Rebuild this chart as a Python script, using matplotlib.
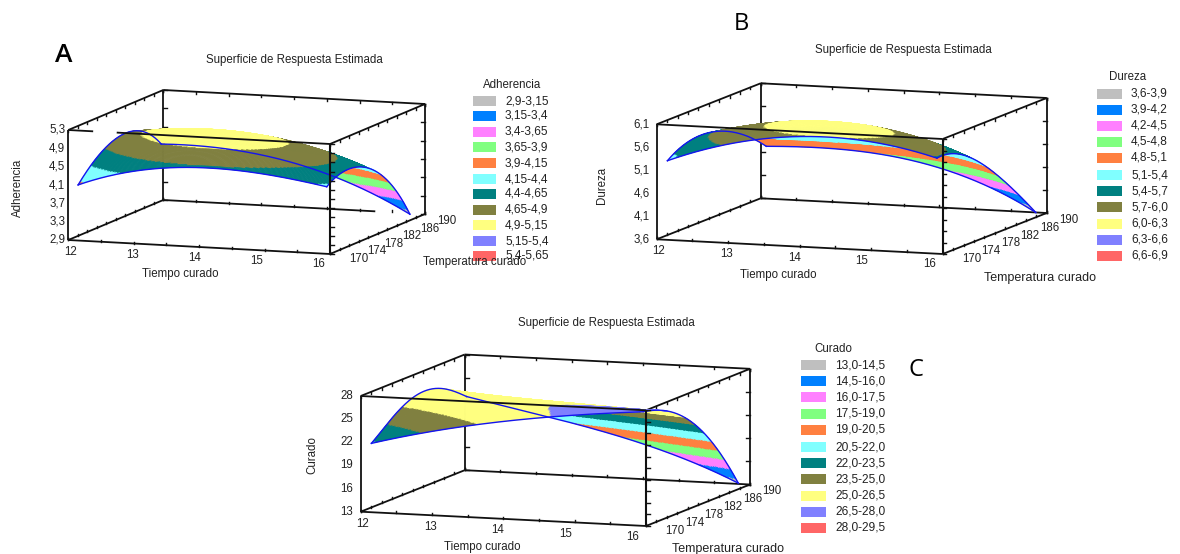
import numpy as np
import matplotlib
matplotlib.use("Agg")
import matplotlib.pyplot as plt
from matplotlib.collections import PolyCollection
from matplotlib.patches import Rectangle

plt.rcParams['font.family'] = ['Liberation Sans', 'DejaVu Sans']

BAND_COLORS = ['#BFBFBF', '#0080FF', '#FF80FF', '#80FF80', '#FF8040', '#80FFFF',
               '#008080', '#808040', '#FFFF80', '#8080FF', '#FF6666']

X_TICKS = [12, 13, 14, 15, 16]
Y_TICKS = [170, 174, 178, 182, 186, 190]

A_Z_TICKS = [2.9, 3.3, 3.7, 4.1, 4.5, 4.9, 5.3]
A_Z_LABELS = ['2,9', '3,3', '3,7', '4,1', '4,5', '4,9', '5,3']
A_BANDS = [2.9, 3.15, 3.4, 3.65, 3.9, 4.15, 4.4, 4.65, 4.9, 5.15, 5.4, 5.65]
A_LEGEND = ['2,9-3,15', '3,15-3,4', '3,4-3,65', '3,65-3,9', '3,9-4,15', '4,15-4,4',
            '4,4-4,65', '4,65-4,9', '4,9-5,15', '5,15-5,4', '5,4-5,65']
A_SURF_X = [12.15, 13.1, 14.05, 15.0, 15.95]
A_SURF_Y = [170, 173.5, 177, 180.5, 184, 187.5]
A_SURF_Z = [[4.11, 4.50, 4.75, 4.80, 4.66, 4.24],
            [4.52, 4.84, 5.00, 4.95, 4.69, 4.22],
            [4.61, 4.96, 5.06, 4.94, 4.58, 4.02],
            [4.58, 4.80, 4.84, 4.68, 4.28, 3.63],
            [4.36, 4.54, 4.50, 4.23, 3.75, 3.00]]

B_Z_TICKS = [3.6, 4.1, 4.6, 5.1, 5.6, 6.1]
B_Z_LABELS = ['3,6', '4,1', '4,6', '5,1', '5,6', '6,1']
B_BANDS = [3.6, 3.9, 4.2, 4.5, 4.8, 5.1, 5.4, 5.7, 6.0, 6.3, 6.6, 6.9]
B_LEGEND = ['3,6-3,9', '3,9-4,2', '4,2-4,5', '4,5-4,8', '4,8-5,1', '5,1-5,4',
            '5,4-5,7', '5,7-6,0', '6,0-6,3', '6,3-6,6', '6,6-6,9']
B_SURF_X = [12.15, 13.09, 14.03, 14.98, 15.92]
B_SURF_Y = [170, 173.8, 177.6, 181.4, 185.2, 189]
B_SURF_Z = [[5.32, 5.56, 5.58, 5.46, 5.18, 4.78],
            [5.78, 5.93, 5.87, 5.60, 5.22, 4.84],
            [6.00, 6.17, 5.98, 5.62, 5.15, 4.64],
            [5.96, 5.98, 5.75, 5.35, 4.87, 4.35],
            [5.68, 5.60, 5.31, 4.80, 4.27, 3.64]]

C_Z_TICKS = [13, 16, 19, 22, 25, 28]
C_Z_LABELS = ['13', '16', '19', '22', '25', '28']
C_BANDS = [13, 14.5, 16, 17.5, 19, 20.5, 22, 23.5, 25, 26.5, 28, 29.5]
C_LEGEND = ['13,0-14,5', '14,5-16,0', '16,0-17,5', '17,5-19,0', '19,0-20,5', '20,5-22,0',
            '22,0-23,5', '23,5-25,0', '25,0-26,5', '26,5-28,0', '28,0-29,5']
C_SURF_X = [12.15, 13.1, 14.05, 15.0, 15.96]
C_SURF_Y = [170, 173.66, 177.32, 180.98, 184.64, 188.3]
C_SURF_Z = [[21.93, 23.97, 25.58, 25.90, 25.00, 23.07],
            [24.09, 25.34, 26.09, 25.54, 23.99, 21.34],
            [25.70, 26.30, 26.30, 25.00, 22.80, 19.42],
            [26.92, 26.75, 26.07, 24.10, 21.12, 17.05],
            [27.80, 26.95, 25.41, 22.48, 18.69, 13.60]]


def smooth_surface(sx, sy, sz, nx=170, ny=130):
    """Render the table as a smooth response surface (polynomial least squares)."""
    sx, sy, sz = map(np.asarray, (sx, sy, sz))
    cx = (sx - 14) / 2
    cy = (sy - 180) / 10
    gx, gy = np.meshgrid(cx, cy, indexing='ij')
    pw = [(i, j) for i in range(4) for j in range(5)]
    A = np.column_stack([gx.ravel()**i * gy.ravel()**j for i, j in pw])
    coef, *_ = np.linalg.lstsq(A, sz.ravel(), rcond=None)
    fx = np.linspace(sx[0], sx[-1], nx)
    fy = np.linspace(sy[0], sy[-1], ny)
    mx, my = np.meshgrid(fx, fy, indexing='ij')
    ux, uy = (mx - 14) / 2, (my - 180) / 10
    mz = sum(c * ux**i * uy**j for c, (i, j) in zip(coef, pw))
    return mx, my, mz


def draw_panel(ax, p):
    o, vx, vy, hgt = p['origin'], p['vx'], p['vy'], p['height']
    zt = p['zticks']
    z0, z1 = zt[0], zt[-1]

    def proj(x, y, z):
        tx = (np.asarray(x, float) - 12) / 4
        ty = (np.asarray(y, float) - 170) / 20
        tz = (np.asarray(z, float) - z0) / (z1 - z0)
        return o[0] + tx * vx[0] + ty * vy[0], o[1] + tx * vx[1] + ty * vy[1] - tz * hgt

    def seg(a, b, zorder=2, lw=1.3):
        xa, ya = proj(*a)
        xb, yb = proj(*b)
        ax.plot([xa, xb], [ya, yb], color='#111111', lw=lw, zorder=zorder, solid_capstyle='butt')

    seg((12, 170, z0), (12, 190, z0))
    back_end = p.get('back_end', 16)
    seg((12, 190, z0), (back_end, 190, z0))
    seg((16, 170, z0), (16, 190, z0))
    seg((12, 170, z1), (12, 190, z1))
    seg((12, 190, z1), (16, 190, z1))
    seg((16, 170, z1), (16, 190, z1))
    seg((12, 190, z0), (12, 190, z1))
    seg((16, 190, z0), (16, 190, z1))
    seg((12, 170, z0), (12, 170, z1))
    seg((12, 170, z0), (16, 170, z0))

    def tick(pt, dx, dy, zorder=2):
        a, b = proj(*pt)
        ax.plot([a, a + dx], [b, b + dy], color='#111111', lw=1.0, zorder=zorder)

    xs_minor = np.arange(12, 16.01, 0.5)
    ys_minor = np.arange(170, 190.01, 2)
    for v in xs_minor:
        tick((v, 170, z0), 0, -2)
        tick((v, 190, z1), 0, 2)
        tick((v, 190, z0), 0, -2)
    for v in ys_minor:
        tick((16, v, z0), 0, -2)
        tick((12, v, z0), 0, -2)
        tick((12, v, z1), 0, 2)
        tick((16, v, z1), 0, 2)
    for v in zt:
        tick((12, 190, v), 4, 0)
        tick((16, 190, v), -4, 0)
    zm = (np.asarray(zt[:-1]) + np.asarray(zt[1:])) / 2

    mx, my, mz = smooth_surface(p['sx'], p['sy'], p['sz'])
    px, py = proj(mx, my, mz)
    bands = np.asarray(p['bands'])
    idx = np.clip(np.searchsorted(bands, mz, side='right') - 1, 0, len(BAND_COLORS) - 1)
    polys, cols = [], []
    nx, ny = mx.shape
    for j in range(ny - 2, -1, -1):
        for i in range(nx - 1):
            polys.append([(px[i, j], py[i, j]), (px[i + 1, j], py[i + 1, j]),
                          (px[i + 1, j + 1], py[i + 1, j + 1]), (px[i, j + 1], py[i, j + 1])])
            cols.append(BAND_COLORS[idx[i, j]])
    ax.add_collection(PolyCollection(polys, facecolors=cols, edgecolors=cols, linewidths=0.35, zorder=3))

    for ex, ey in ((px[:, 0], py[:, 0]), (px[:, -1], py[:, -1]), (px[0, :], py[0, :]), (px[-1, :], py[-1, :])):
        ax.plot(ex, ey, color='#1414F0', lw=1.0, zorder=4)

    gap = p.get('front_gap')
    if gap:
        seg((12, 170, z1), (gap[0], 170, z1), zorder=5)
        seg((gap[1], 170, z1), (16, 170, z1), zorder=5)
    else:
        seg((12, 170, z1), (16, 170, z1), zorder=5)
    seg((16, 170, z0), (16, 170, z1), zorder=5, lw=1.5)
    for v in np.concatenate([zt, zm]):
        tick((16, 170, v), 3.5, 0, zorder=5)

    txt = dict(color='#222222', fontsize=8.3, ha='center', va='center', zorder=6)
    for i, v in enumerate(X_TICKS):
        a, b = proj(v, 170, z0)
        t = i / 4
        ax.text(a + 2 + t * p['xl16'][0], b + 12 + t * p['xl16'][1], str(v), **txt)
    for i, v in enumerate(Y_TICKS):
        a, b = proj(16, v, z0)
        t = i / 5
        ax.text(a + 29 - 7 * t, b + 5 + 2 * t, str(v), **txt)
    for v, s in zip(zt, p['zlabels']):
        a, b = proj(12, 170, v)
        ax.text(a - p['zl_off'], b, s, **txt)

    ax.text(*p['xlabel_pos'], 'Tiempo curado', **txt)
    ax.text(*p['ylabel_pos'], 'Temperatura curado', **{**txt, 'fontsize': p['ylabel_fs']})
    ax.text(*p['zlabel_pos'], p['name'], rotation=90, **txt)
    ax.text(*p['title_pos'], 'Superficie de Respuesta Estimada', **{**txt, 'fontsize': 8.3})

    lx0, lx1 = p['leg_x']
    ax.text(*p['leg_title_pos'], p['name'], **txt)
    for s, c, yc in zip(p['legend'], BAND_COLORS, p['leg_y']):
        ax.add_patch(Rectangle((lx0, yc - 5), lx1 - lx0, 10, facecolor=c, edgecolor='none', zorder=2))
        ax.text(lx1 + 9, yc, s, **{**txt, 'ha': 'left', 'fontsize': 8.6})


panels = [
    dict(name='Adherencia', origin=(68.3, 240), vx=(261.7, 14), vy=(95, -40), height=110,
         zticks=A_Z_TICKS, zlabels=A_Z_LABELS, bands=A_BANDS, legend=A_LEGEND,
         sx=A_SURF_X, sy=A_SURF_Y, sz=A_SURF_Z, xl16=(-13, -2), zl_off=11,
         back_end=15.24, front_gap=(12.38, 12.74), ylabel_fs=8.3,
         xlabel_pos=(180, 274), ylabel_pos=(475, 262), zlabel_pos=(18, 188),
         title_pos=(294, 60), leg_x=(473, 496), leg_title_pos=(512, 85),
         leg_y=[101, 116, 132, 147, 163, 179, 194, 210, 225, 241, 256]),
    dict(name='Dureza', origin=(656.7, 239.3), vx=(286, 14.7), vy=(104, -41), height=115,
         zticks=B_Z_TICKS, zlabels=B_Z_LABELS, bands=B_BANDS, legend=B_LEGEND,
         sx=B_SURF_X, sy=B_SURF_Y, sz=B_SURF_Z, xl16=(-15, -2), zl_off=15, ylabel_fs=9.0,
         xlabel_pos=(778, 275), ylabel_pos=(1040, 278), zlabel_pos=(602, 185),
         title_pos=(903, 50), leg_x=(1097, 1122), leg_title_pos=(1128, 77),
         leg_y=[94, 110, 126, 142, 158, 175, 191, 207, 224, 240, 256]),
    dict(name='Curado', origin=(360.7, 511.7), vx=(285.3, 14.3), vy=(104, -41.5), height=115.7,
         zticks=C_Z_TICKS, zlabels=C_Z_LABELS, bands=C_BANDS, legend=C_LEGEND,
         sx=C_SURF_X, sy=C_SURF_Y, sz=C_SURF_Z, xl16=(-15, -1), zl_off=14, ylabel_fs=9.0,
         xlabel_pos=(482, 547), ylabel_pos=(728, 549), zlabel_pos=(312, 455),
         title_pos=(606, 323), leg_x=(801, 826), leg_title_pos=(833, 349),
         leg_y=[365, 381, 397, 414, 430, 447, 463, 479, 496, 512, 528]),
]

fig = plt.figure(figsize=(11.8, 5.54), dpi=100, facecolor='white')
ax = fig.add_axes([0, 0, 1, 1])
ax.set_xlim(0, 1180)
ax.set_ylim(554, 0)
ax.axis('off')
for p in panels:
    draw_panel(ax, p)

ax.text(64, 55, 'A', fontsize=19, fontfamily='Open Sans', fontweight='semibold', ha='center', va='center', color='black')
ax.text(741, 24, 'B', fontsize=17, fontfamily='Open Sans', ha='center', va='center', color='black')
ax.text(916, 370, 'C', fontsize=17, fontfamily='Open Sans', ha='center', va='center', color='black')

fig.savefig('out.png', dpi=100, facecolor='white')
